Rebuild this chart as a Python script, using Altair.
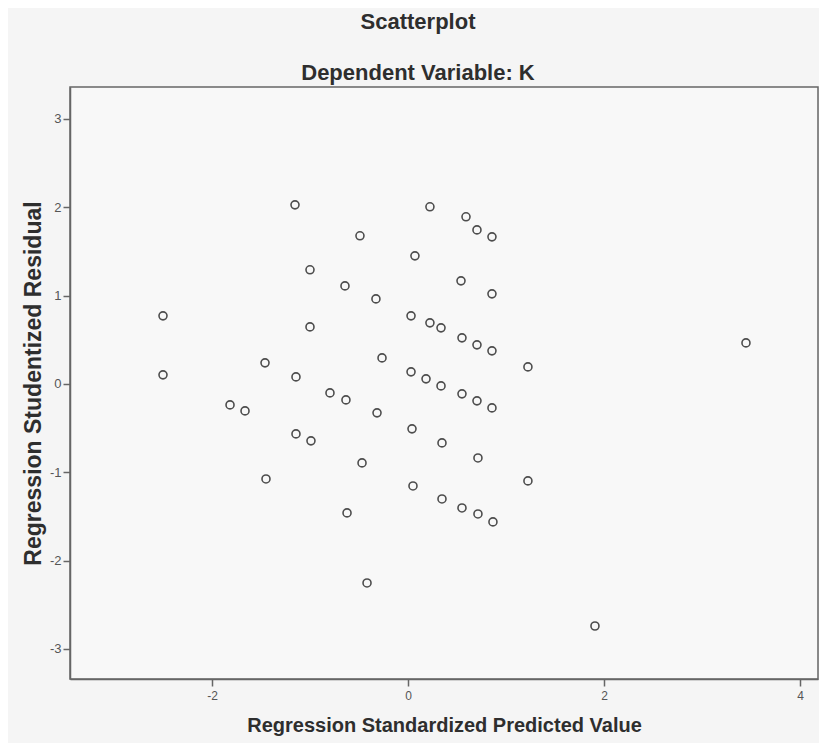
import altair as alt
import pandas as pd

x_vals = [-1.153, 0.224, 0.592, 0.704, 0.857, -0.490, 0.071, -1.000, 0.541, -0.643,
          0.857, -0.327, -2.500, 0.031, 0.224, 0.337, -1.000, 0.551, 0.704, 0.857,
          3.449, -0.265, -1.459, 1.224, -2.500, -1.143, 0.031, 0.184, 0.337, 0.551,
          0.704, 0.857, -1.816, -1.663, -0.796, -0.633, -0.316, -1.143, -0.990, 0.041,
          0.347, 0.714, -0.469, -1.449, 1.224, 0.051, 0.347, 0.551, 0.714, 0.867,
          -0.622, -0.418, 1.908]
y_vals = [2.026, 2.004, 1.891, 1.743, 1.664, 1.676, 1.449, 1.291, 1.166, 1.109,
          1.019, 0.962, 0.770, 0.770, 0.691, 0.634, 0.645, 0.521, 0.442, 0.374,
          0.464, 0.294, 0.238, 0.192, 0.102, 0.079, 0.136, 0.057, -0.023, -0.113,
          -0.192, -0.272, -0.238, -0.306, -0.102, -0.181, -0.328, -0.566, -0.645, -0.509,
          -0.668, -0.838, -0.894, -1.076, -1.098, -1.155, -1.302, -1.404, -1.472, -1.562,
          -1.460, -2.253, -2.740]
x_ticks = [-2, 0, 2, 4]
y_ticks = [-3, -2, -1, 0, 1, 2, 3]

df = pd.DataFrame({"pred": x_vals, "resid": y_vals})

FONT = "Liberation Sans"

chart = alt.Chart(df).mark_point(
    shape="circle", filled=False, size=64, strokeWidth=1.6, color="#4d4d4d", opacity=1
).encode(
    x=alt.X("pred:Q",
            scale=alt.Scale(domain=[-3.449, 4.184], nice=False, zero=False),
            axis=alt.Axis(values=x_ticks, title="Regression Standardized Predicted Value",
                          labelExpr="datum.value + ''",
                          grid=False, tickSize=7, labelPadding=4, titlePadding=14,
                          titleFontSize=20, titleFont=FONT, titleFontWeight="bold",
                          titleColor="#2e2e2e", labelFontSize=12, labelFont=FONT,
                          labelColor="#555555", domainColor="#666666", tickColor="#666666",
                          domainWidth=1.5, tickWidth=1.5)),
    y=alt.Y("resid:Q",
            scale=alt.Scale(domain=[-3.34, 3.36], nice=False, zero=False),
            axis=alt.Axis(values=y_ticks, title="Regression Studentized Residual",
                          labelExpr="datum.value + ''",
                          grid=False, tickSize=7, labelPadding=2, titlePadding=4,
                          titleFontSize=23, titleFont=FONT, titleFontWeight="bold",
                          titleColor="#2e2e2e", labelFontSize=13, labelFont=FONT,
                          labelColor="#555555", domainColor="#666666", tickColor="#666666",
                          domainWidth=1.5, tickWidth=1.5)),
).properties(
    width=748,
    height=592,
    autosize=alt.AutoSizeParams(type="none"),
    padding={"left": 62, "top": 79, "right": 1, "bottom": 64},
    background="#f5f5f5",
    title=alt.TitleParams(
        text="Scatterplot",
        subtitle="Dependent Variable: K",
        fontSize=22, font=FONT, fontWeight="bold", color="#2e2e2e",
        subtitleFontSize=22, subtitleFont=FONT, subtitleFontWeight="bold",
        subtitleColor="#2e2e2e", subtitlePadding=29, offset=2,
        anchor="middle", dx=-26,
    ),
).configure_view(
    stroke="#666666", strokeWidth=1.5, fill="#f8f8f8"
)

chart.save("out.html", embed_options={"renderer": "svg", "actions": False})
